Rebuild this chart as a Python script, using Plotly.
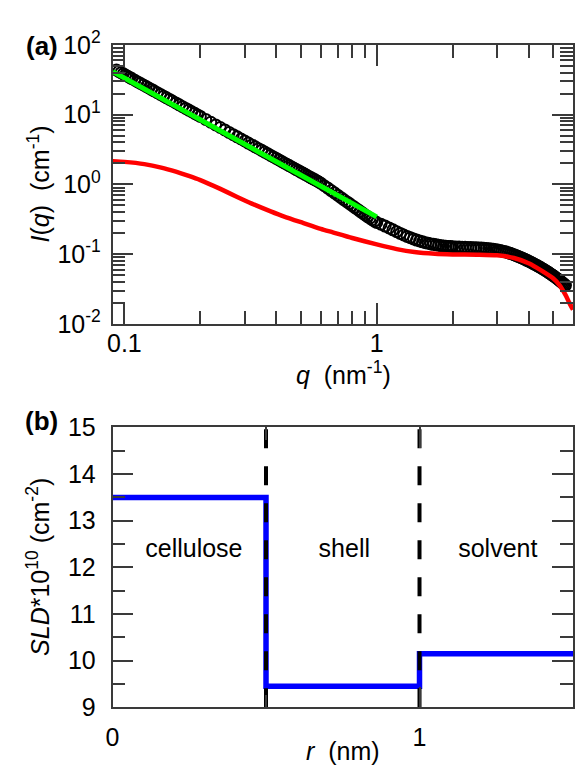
import plotly.graph_objects as go

# ---------------- data: panel (a) ----------------
q_data = [0.093, 0.095, 0.097, 0.099, 0.101, 0.103, 0.105, 0.107, 0.11, 0.113,
          0.116, 0.119, 0.122, 0.125, 0.128, 0.131, 0.135, 0.139, 0.143, 0.147,
          0.151, 0.155, 0.16, 0.165, 0.17, 0.175, 0.18, 0.185, 0.19, 0.195,
          0.2, 0.21, 0.22, 0.23, 0.24, 0.25, 0.26, 0.27, 0.28, 0.29,
          0.30, 0.31, 0.32, 0.33, 0.34, 0.35, 0.36, 0.37, 0.38, 0.39,
          0.40, 0.41, 0.42, 0.43, 0.44, 0.45, 0.46, 0.47, 0.48, 0.49,
          0.50, 0.51, 0.52, 0.53, 0.54, 0.55, 0.56, 0.57, 0.58, 0.59,
          0.60, 0.62, 0.64, 0.66, 0.68, 0.70, 0.72, 0.74, 0.76, 0.78,
          0.80, 0.82, 0.84, 0.86, 0.88, 0.90, 0.92, 0.94, 0.96, 0.98,
          1.00, 1.04, 1.08, 1.12, 1.16, 1.20, 1.24, 1.28, 1.32, 1.36,
          1.40, 1.44, 1.48, 1.52, 1.56, 1.60, 1.64, 1.68, 1.72, 1.76,
          1.80, 1.84, 1.88, 1.92, 1.96, 2.00, 2.06, 2.12, 2.18, 2.24,
          2.30, 2.36, 2.42, 2.48, 2.54, 2.60, 2.66, 2.72, 2.78, 2.84,
          2.90, 2.96, 3.02, 3.08, 3.14, 3.20, 3.26, 3.32, 3.38, 3.44,
          3.50, 3.56, 3.62, 3.68, 3.74, 3.80, 3.86, 3.92, 3.98, 4.04,
          4.10, 4.16, 4.22, 4.28, 4.34, 4.40, 4.46, 4.52, 4.58, 4.64,
          4.70, 4.76, 4.82, 4.88, 4.94, 5.00, 5.06, 5.12, 5.18, 5.24,
          5.30, 5.36, 5.42, 5.48, 5.54, 5.60]
I_data = [43.47, 41.66, 39.96, 38.36, 36.86, 35.44, 34.10, 32.84, 31.07, 29.45,
          27.94, 26.55, 25.26, 24.06, 22.95, 21.91, 20.63, 19.46, 18.39, 17.40,
          16.49, 15.65, 14.69, 13.81, 13.01, 12.28, 11.60, 10.99, 10.42, 9.89,
          9.40, 8.53, 7.77, 7.11, 6.53, 6.02, 5.56, 5.16, 4.80, 4.47,
          4.18, 3.91, 3.67, 3.45, 3.25, 3.07, 2.90, 2.75, 2.60, 2.47,
          2.35, 2.24, 2.13, 2.03, 1.94, 1.86, 1.78, 1.70, 1.63, 1.57,
          1.50, 1.45, 1.39, 1.34, 1.29, 1.24, 1.20, 1.16, 1.12, 1.08,
          1.04, 0.955, 0.885, 0.815, 0.755, 0.70, 0.65, 0.605, 0.565, 0.53,
          0.495, 0.465, 0.437, 0.41, 0.387, 0.365, 0.345, 0.327, 0.311, 0.297,
          0.284, 0.268, 0.252, 0.237, 0.223, 0.210, 0.198, 0.188, 0.179, 0.172,
          0.165, 0.159, 0.154, 0.150, 0.146, 0.143, 0.140, 0.138, 0.136, 0.134,
          0.132, 0.131, 0.130, 0.129, 0.128, 0.127, 0.1265, 0.126, 0.1255, 0.125,
          0.1245, 0.124, 0.1235, 0.123, 0.1225, 0.122, 0.1213, 0.1205, 0.1195, 0.1185,
          0.1172, 0.1158, 0.1142, 0.1125, 0.1107, 0.1088, 0.1068, 0.1047, 0.1025, 0.1003,
          0.0980, 0.0957, 0.0934, 0.0911, 0.0888, 0.0866, 0.0844, 0.0822, 0.0800, 0.0779,
          0.0758, 0.0738, 0.0718, 0.0698, 0.0679, 0.0660, 0.0642, 0.0624, 0.0606, 0.0589,
          0.0572, 0.0555, 0.0539, 0.0523, 0.0507, 0.0492, 0.0477, 0.0462, 0.0448, 0.0434,
          0.0420, 0.0407, 0.0394, 0.0381, 0.0369, 0.0357]

q_model = [0.09, 0.1, 0.12, 0.14, 0.16, 0.18, 0.2, 0.24, 0.28, 0.32,
           0.38, 0.43, 0.51, 0.6, 0.67, 0.8, 1.0, 1.2, 1.41, 1.7,
           2.0, 2.5, 3.0, 3.5, 4.0, 4.5, 5.0, 5.3, 5.6, 5.8, 6.0]
I_model = [2.15, 2.10, 1.95, 1.74, 1.52, 1.32, 1.15, 0.86, 0.66, 0.53,
           0.41, 0.345, 0.28, 0.23, 0.205, 0.17, 0.138, 0.118, 0.107, 0.101,
           0.099, 0.098, 0.096, 0.088, 0.074, 0.058, 0.045, 0.036, 0.026, 0.02, 0.016]

q_fit = [0.09, 1.0]
I_fit = [41.3, 0.342]

y_tickvals_a = [0.01, 0.1, 1, 10, 100]
y_ticktext_a = ["10<sup>-2</sup>", "10<sup>-1</sup>", "10<sup>0</sup>",
                "10<sup>1</sup>", "10<sup>2</sup>"]
x_tickvals_a = [0.1, 1]
x_ticktext_a = ["0.1", "1"]

# ---------------- data: panel (b) ----------------
r_steps = [0, 0.5, 1.0, 1.5]
sld_steps = [13.5, 9.45, 10.15, 10.15]
boundaries = [0.5, 1.0]
region_labels = ["cellulose", "shell", "solvent"]
region_x = [0.265, 0.755, 1.255]
region_y = [12.35, 12.35, 12.35]

FONT = "Arial, 'Liberation Sans', sans-serif"
AX = "#3a3a3a"
FS = 25
W, H = 575, 776


def px(x):
    return x / W


def py(y):
    return 1 - y / H


fig = go.Figure()

fig.add_trace(go.Scatter(
    x=q_data, y=I_data, mode="markers", xaxis="x", yaxis="y",
    marker=dict(symbol="circle-open", size=11, color="black",
                line=dict(width=2, color="black")),
    showlegend=False, hoverinfo="skip"))
fig.add_trace(go.Scatter(
    x=q_model, y=I_model, mode="lines", xaxis="x", yaxis="y",
    line=dict(color="#ff0000", width=4.5, shape="spline", smoothing=0.6),
    showlegend=False, hoverinfo="skip"))
fig.add_trace(go.Scatter(
    x=q_fit, y=I_fit, mode="lines", xaxis="x", yaxis="y",
    line=dict(color="#00ff00", width=5),
    showlegend=False, hoverinfo="skip"))

fig.add_trace(go.Scatter(
    x=r_steps, y=sld_steps, mode="lines", xaxis="x2", yaxis="y2",
    line=dict(color="#0000ff", width=5.5, shape="hv"),
    showlegend=False, hoverinfo="skip"))
for b in boundaries:
    fig.add_trace(go.Scatter(
        x=[b, b], y=[9, 15], mode="lines", xaxis="x2", yaxis="y2",
        line=dict(color="black", width=4, dash="19px,18px"),
        showlegend=False, hoverinfo="skip"))

fig.add_trace(go.Scatter(
    x=region_x, y=region_y, mode="text", text=region_labels,
    xaxis="x2", yaxis="y2", textposition="middle center",
    textfont=dict(family=FONT, size=FS, color="black"),
    showlegend=False, hoverinfo="skip"))

common = dict(showline=True, linecolor=AX, linewidth=1.5, mirror="allticks",
              ticks="inside", ticklen=21, tickwidth=1.5, tickcolor=AX,
              showgrid=False, zeroline=False,
              tickfont=dict(family=FONT, size=FS, color="black"))
minor_common = dict(ticks="inside", ticklen=13, tickwidth=1.5, tickcolor=AX,
                    showgrid=False)

fig.update_layout(
    width=W, height=H, margin=dict(l=0, r=0, t=0, b=0),
    paper_bgcolor="white", plot_bgcolor="white",
    xaxis=dict(domain=[px(107), px(574)], anchor="y", type="log",
               range=[-1.047, 0.778], tickmode="array",
               tickvals=x_tickvals_a, ticktext=x_ticktext_a,
               minor=dict(dtick="D1", **minor_common),
               ticklabelstandoff=-4, **common),
    yaxis=dict(domain=[py(319), py(28)], anchor="x", type="log",
               range=[-2, 2], tickmode="array",
               tickvals=y_tickvals_a, ticktext=y_ticktext_a,
               minor=dict(dtick="D1", **minor_common),
               ticklabelstandoff=5, **common),
    xaxis2=dict(domain=[px(107), px(574)], anchor="y2",
                range=[0, 1.5], tick0=0, dtick=1,
                minor=dict(dtick=0.5, **minor_common),
                ticklabelstandoff=7, **common),
    yaxis2=dict(domain=[py(719), py(427)], anchor="x2",
                range=[9, 15], tick0=9, dtick=1,
                minor=dict(dtick=0.5, **minor_common),
                ticklabelstandoff=10, **common),
)

ann_font = dict(family=FONT, size=FS, color="black")
annotations = [
    dict(text="<b>(a)</b>", x=px(35), y=py(29), xref="paper", yref="paper",
         showarrow=False, font=dict(family=FONT, size=26, color="black"),
         xanchor="center", yanchor="middle"),
    dict(text="<b>(b)</b>", x=px(35), y=py(420), xref="paper", yref="paper",
         showarrow=False, font=dict(family=FONT, size=26, color="black"),
         xanchor="center", yanchor="middle"),
    dict(text="<i>q</i>\u00a0\u00a0(nm<sup>-1</sup>)", x=px(341), y=py(370),
         xref="paper", yref="paper", showarrow=False, font=ann_font,
         xanchor="center", yanchor="middle"),
    dict(text="<i>r</i>\u00a0\u00a0(nm)", x=px(341), y=py(765),
         xref="paper", yref="paper", showarrow=False, font=ann_font,
         xanchor="center", yanchor="middle"),
    dict(text="<i>I</i>(<i>q</i>)\u00a0\u00a0(cm<sup>-1</sup>)", x=px(32), y=py(173),
         xref="paper", yref="paper", showarrow=False, font=ann_font,
         textangle=-90, xanchor="center", yanchor="middle"),
    dict(text="<i>SLD</i>*10<sup>10</sup> (cm<sup>-2</sup>)", x=px(32), y=py(573),
         xref="paper", yref="paper", showarrow=False, font=ann_font,
         textangle=-90, xanchor="center", yanchor="middle"),
]
fig.update_layout(annotations=annotations)

fig.write_html("out.html")
